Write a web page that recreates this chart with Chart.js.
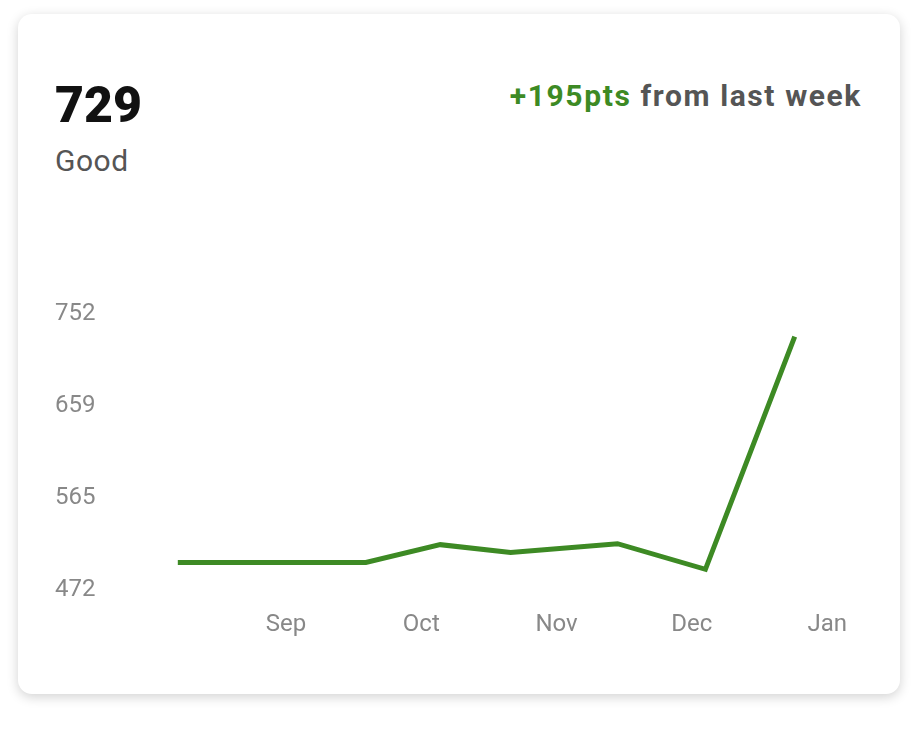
<!DOCTYPE html>
<html><head><meta charset="utf-8">
<script src="https://cdn.jsdelivr.net/npm/chart.js@4"></script>
<style>
html,body{margin:0;padding:0;background:#fff;width:921px;height:749px;overflow:hidden;font-family:Roboto,"Open Sans",sans-serif;}
.card{position:absolute;left:18px;top:14px;width:882px;height:680px;border-radius:14px;background:#fff;box-shadow:0 3px 12px rgba(0,0,0,0.18);}
.big{position:absolute;left:55px;top:76px;font-size:50px;font-weight:900;color:#111;letter-spacing:0px;}
.sub{position:absolute;left:55px;top:143px;font-size:30px;color:#555;letter-spacing:0.5px;}
.delta{position:absolute;right:59px;top:78px;font-size:30px;font-weight:700;color:#555;letter-spacing:1.6px;}
.delta span{color:#3d8a24;}
canvas{position:absolute;left:0;top:0;}
</style></head><body>
<div class="card"></div>
<div class="big">729</div>
<div class="sub">Good</div>
<div class="delta"><span>+195pts</span> from last week</div>
<div style="position:absolute;left:0;top:0;width:921px;height:749px"><canvas id="c"></canvas></div>
<script>
const monthLabels = ["Sep","Oct","Nov","Dec","Jan"];
const yTicks = [472,565,659,752];
const xPositions = [0.2,1.59,2.14,2.66,3.45,4.10,4.76];
const scores = [500,500,518,510,519,493,729];
new Chart(document.getElementById('c'),{
  type:'line',
  data:{datasets:[{data:xPositions.map((x,i)=>({x:x,y:scores[i]})),borderColor:'#3d8a24',borderWidth:5,pointRadius:0,tension:0,fill:false}]},
  options:{responsive:true,maintainAspectRatio:false,animation:false,
    layout:{padding:{left:55,right:60,top:314,bottom:0}},
    plugins:{legend:{display:false},tooltip:{enabled:false}},
    scales:{
      x:{type:'linear',min:0,max:5.25,grid:{display:false,drawTicks:false},border:{display:false},
        afterBuildTicks:s=>{s.ticks=monthLabels.map((m,i)=>({value:i+1}));},
        ticks:{padding:21,color:'#888',font:{size:24,family:'Roboto'},callback:(v)=>monthLabels[v-1]||''},
        afterFit:s=>{s.height=159;}},
      y:{min:472,max:752,grid:{display:false,drawTicks:false},border:{display:false},
        afterBuildTicks:s=>{s.ticks=yTicks.map(v=>({value:v}));},
        ticks:{crossAlign:'far',color:'#888',font:{size:24,family:'Roboto'},padding:0},
        afterFit:s=>{s.width=95.75;}}
    }}
});
</script></body></html>
